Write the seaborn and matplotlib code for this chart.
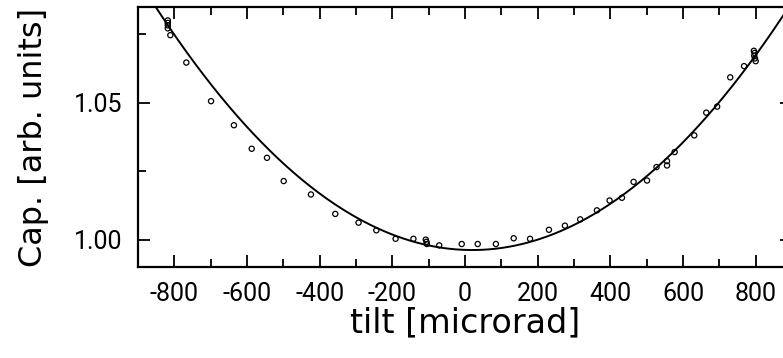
import matplotlib
matplotlib.use("Agg")
import matplotlib.pyplot as plt
import seaborn as sns
import numpy as np
import pandas as pd
from matplotlib.ticker import MultipleLocator

# measured data (tilt in microrad, capacitance in arb. units)
tilt = [-818, -818, -818, -818, -811, -767, -699, -636, -587, -545, -499, -424,
        -357, -293, -244, -191, -142, -108, -106, -105, -71, -9, 35, 85, 134,
        179, 231, 275, 317, 363, 398, 432, 464, 501, 527, 556, 556, 577, 631,
        664, 694, 730, 768, 795, 797, 798, 800, 796]
cap = [1.0801, 1.0792, 1.0783, 1.0772, 1.0747, 1.0647, 1.0506, 1.0418, 1.0332,
       1.0299, 1.0214, 1.0165, 1.0094, 1.0062, 1.0034, 1.0003, 1.0003, 1.0000,
       0.9992, 0.9984, 0.9979, 0.9984, 0.9984, 0.9984, 1.0005, 1.0003, 1.0036,
       1.0051, 1.0074, 1.0107, 1.0143, 1.0153, 1.0211, 1.0216, 1.0265, 1.0271,
       1.0287, 1.0320, 1.0381, 1.0464, 1.0486, 1.0593, 1.0634, 1.0690, 1.0682,
       1.0662, 1.0652, 1.0672]

# parabolic fit parameters: cap = fit_min + fit_curv * (tilt - fit_x0)^2
fit_min = 0.9962
fit_x0 = 20.0
fit_curv = 1.17e-7

x_ticks = [-800, -600, -400, -200, 0, 200, 400, 600, 800]
y_ticks = [1.00, 1.05]
y_tick_labels = ["1.00", "1.05"]

sns.set_theme(style="white")
plt.rcParams['font.family'] = ['Roboto', 'DejaVu Sans']
plt.rcParams['text.color'] = 'black'
plt.rcParams['axes.labelcolor'] = 'black'
plt.rcParams['xtick.color'] = 'black'
plt.rcParams['ytick.color'] = 'black'

fig = plt.figure(figsize=(7.83, 3.58), dpi=100)
ax = fig.add_axes([138/783, (358-267)/358, (792-138)/783, (267-7)/358])

df = pd.DataFrame({"tilt": tilt, "cap": cap})
fit_x = np.linspace(-900, 900, 400)
fit_df = pd.DataFrame({"tilt": fit_x, "cap": fit_min + fit_curv * (fit_x - fit_x0) ** 2})

sns.lineplot(data=fit_df, x="tilt", y="cap", ax=ax, color="black", linewidth=1.4)
sns.scatterplot(data=df, x="tilt", y="cap", ax=ax, marker="o", s=14,
                facecolor="none", edgecolor="black", linewidth=0.9, zorder=3)

ax.set_xlim(-900, 900)
ax.set_ylim(0.99, 1.085)
ax.set_xticks(x_ticks)
ax.set_xticklabels([str(v) for v in x_ticks])
ax.set_yticks(y_ticks)
ax.set_yticklabels(y_tick_labels)
ax.xaxis.set_minor_locator(MultipleLocator(100))
ax.yaxis.set_minor_locator(MultipleLocator(0.025))

ax.tick_params(which="both", direction="in", top=True, right=True, bottom=True, left=True,
               width=1.3, color="black", labelcolor="black")
ax.tick_params(which="major", length=8.6, labelsize=18, pad=11)
ax.tick_params(which="minor", length=5.8)

for sp in ax.spines.values():
    sp.set_linewidth(1.6)
    sp.set_color("black")

ax.set_xlabel("tilt [microrad]", fontsize=24, labelpad=0, family=['DejaVu Sans'])
ax.set_ylabel("Cap. [arb. units]", fontsize=23, labelpad=18, family=['DejaVu Sans'])

fig.savefig("out.png", dpi=100)
